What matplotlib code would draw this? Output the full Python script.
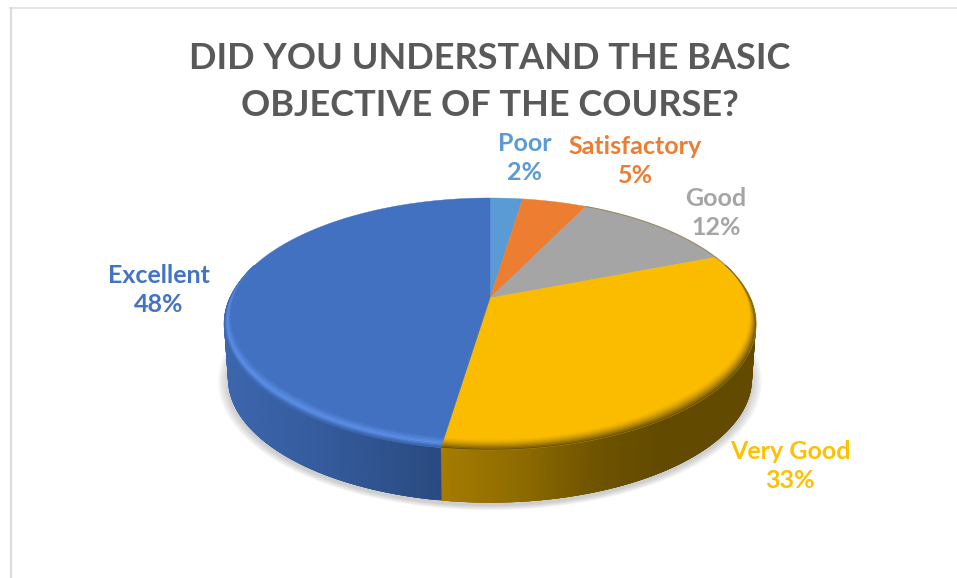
import numpy as np
import matplotlib
matplotlib.use("Agg")
import matplotlib.pyplot as plt
from matplotlib.collections import PolyCollection
from matplotlib.colors import to_rgb
from matplotlib.patches import Polygon
from matplotlib.lines import Line2D

categories = ["Poor", "Satisfactory", "Good", "Very Good", "Excellent"]
values = [2.4, 4.8, 11.9, 33.3, 47.6]
title = "DID YOU UNDERSTAND THE BASIC\nOBJECTIVE OF THE COURSE?"

face_colors = ["#5B9BD5", "#ED7D31", "#A5A5A5", "#FBBC00", "#4371C1"]
label_colors = ["#5B9BD5", "#ED7D31", "#A5A5A5", "#FFC000", "#4472C4"]
label_xy = [(525, 158), (635, 161), (716, 213), (790, 466), (159, 290)]

plt.rcParams['font.family'] = ['Lato', 'DejaVu Sans']
W, H = 957, 578
fig = plt.figure(figsize=(W / 100, H / 100), dpi=100, facecolor="white")
ax = fig.add_axes([0, 0, 1, 1])
ax.set_xlim(0, W)
ax.set_ylim(H, 0)
ax.axis("off")

# projective view of a disc
CX, CY = 490.0, 298.0
K, A, B = 0.206, 260.3, 120.6
DROP, BOT = 55.0, 0.985


def top(theta, s=1.0):
    th = np.asarray(theta)
    u, v = s * np.sin(th), s * np.cos(th)
    d = 1 + K * v
    return np.column_stack([CX + A * u / d, CY - B * v / d])


def bottom(theta):
    p = top(theta)
    return np.column_stack([CX + (p[:, 0] - CX) * BOT, CY + (p[:, 1] - CY) * BOT + DROP])


def bevel_s(theta):
    w = np.clip(-np.cos(theta) + 0.25, 0, 1.0)
    return 1 - 0.055 * w


def mix(a, b, t):
    a, b = np.array(to_rgb(a)), np.array(to_rgb(b))
    return tuple(a + (b - a) * t)


cum = np.cumsum([0] + values) / sum(values) * 2 * np.pi
all_th = np.linspace(0, 2 * np.pi, 721)

# soft shadow
for i in range(12):
    p = bottom(all_th)
    sc = 1 + 0.0035 * i
    p = np.column_stack([CX + (p[:, 0] - CX) * sc, 380 + (p[:, 1] - 380) * sc + 3])
    ax.add_patch(Polygon(p, closed=True, fc="#808080", ec="none", alpha=0.035, zorder=1))

# side wall: overlapping strips painted in order, so no seams show
wall_stops = {
    3: [(441, "#a67c00"), (520, "#8f6c00"), (600, "#6e5300"), (660, "#624a00"), (760, "#624a00")],
    4: [(224, "#3c66ad"), (330, "#345a9b"), (441, "#2a4a80")],
}
rim_hi = {4: "#5c90e8"}
for idx in (3, 4):
    th = np.linspace(cum[idx], cum[idx + 1], 261)
    th = th[(th >= np.pi / 2 - 0.02) & (th <= 3 * np.pi / 2 + 0.02)]
    t1, b1 = top(th), bottom(th)
    xs, cs = zip(*wall_stops[idx])
    rgb = np.array([to_rgb(c) for c in cs])
    quads, cols = [], []
    for j in range(len(th) - 1):
        e = min(j + 4, len(th) - 1)
        quads.append(np.vstack([t1[j:e + 1], b1[j:e + 1][::-1]]))
        cols.append([np.interp(t1[j, 0], xs, rgb[:, c]) for c in range(3)])
    ax.add_collection(PolyCollection(quads, facecolors=cols, edgecolors="none", zorder=2))

# top faces
for i, c in enumerate(face_colors):
    th = np.linspace(cum[i], cum[i + 1], 200)
    pts = np.vstack([[CX, CY], top(th)])
    ax.add_patch(Polygon(pts, closed=True, fc=c, ec=c, lw=0.3, zorder=3))

# bevel along the front edge
for idx in (3, 4):
    th = np.linspace(cum[idx], cum[idx + 1], 300)
    th = th[(th >= np.pi / 2 - 0.3) & (th <= 3 * np.pi / 2 + 0.3)]
    n = 8
    for k in range(n):
        f0, f1 = k / n, (k + 1) / n
        s = bevel_s(th)
        p0 = top(th, 1 - (1 - s) * (1 - f0))
        p1 = top(th, 1 - (1 - s) * (1 - f1))
        if idx == 4:
            col = mix(face_colors[4], rim_hi[4], min(1, f1 * 1.6)) if f1 < 0.65 else mix(rim_hi[4], "#3c66ad", (f1 - 0.65) / 0.35)
        else:
            col = mix(face_colors[3], "#6e5300", f1 ** 1.5)
        ax.add_patch(Polygon(np.vstack([p0, p1[::-1]]), closed=True, fc=col, ec=col, lw=0.2, zorder=4))

# thin edge at the back of the yellow and grey slices
for i in (2, 3):
    if cum[i] < 2.0:
        th = np.linspace(cum[i], min(cum[i + 1], 2.0), 100)
        p = top(th)
        ax.plot(p[:, 0], p[:, 1], color="#8a7a45", lw=0.8, alpha=0.7, zorder=4)

# labels
for cat, v, c, (x, y) in zip(categories, values, label_colors, label_xy):
    ax.text(x, y, f"{cat}\n{round(v)}%", color=c, fontsize=18, fontweight="bold",
            ha="center", va="center", linespacing=1.33, zorder=6)

ax.text(490, 82, title, color="#595959", fontsize=26, fontweight="bold",
        ha="center", va="center", linespacing=1.55, zorder=6)

# chart frame
fig.add_artist(Line2D([10.5 / W, 10.5 / W], [0, 1 - 7.5 / H], color="#dcdcdc", lw=1.6))
fig.add_artist(Line2D([10 / W, 1], [1 - 7.5 / H, 1 - 7.5 / H], color="#dcdcdc", lw=1.1))

fig.savefig("out.png", dpi=100)
